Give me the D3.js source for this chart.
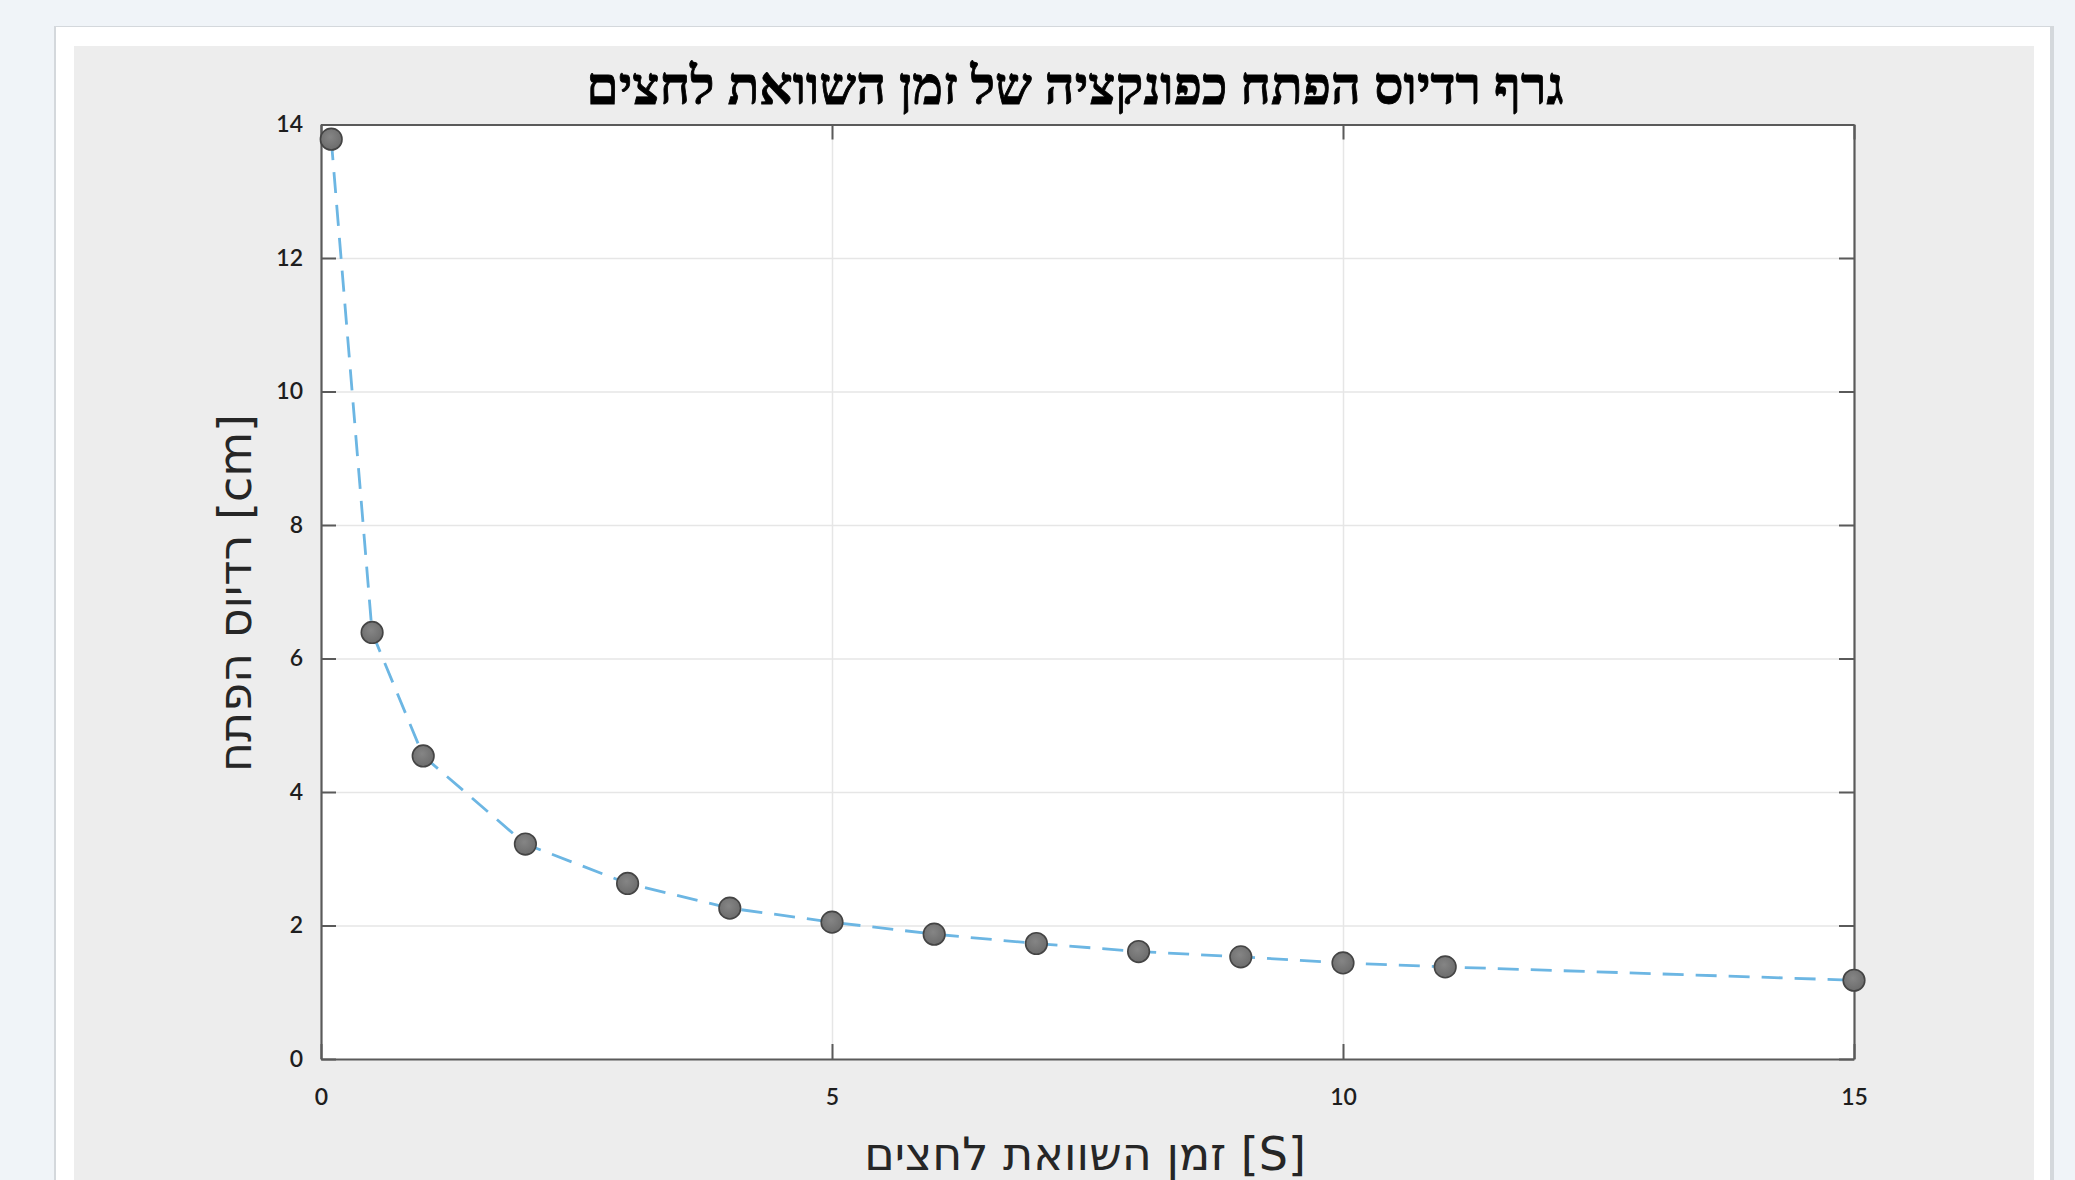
<!DOCTYPE html>
<html lang="he">
<head>
<meta charset="utf-8">
<script src="https://cdn.jsdelivr.net/npm/d3@7"></script>
<style>
  html, body { margin: 0; padding: 0; background: #f0f4f8; overflow: hidden; }
  svg { display: block; }
</style>
</head>
<body>
<svg id="chart" width="2075" height="1180"></svg>
<script>
// Pressure-equalisation time [s] and resulting opening radius [cm]
const times = [0.1, 0.5, 1, 2, 3, 4, 5, 6, 7, 8, 9, 10, 11, 15];
const radii = [13.78, 6.39, 4.54, 3.22, 2.63, 2.26, 2.05, 1.87, 1.73, 1.61, 1.53, 1.44, 1.38, 1.18];
const xTicks = [0, 5, 10, 15];
const yTicks = [0, 2, 4, 6, 8, 10, 12, 14];

const titleText = "גרף רדיוס הפתח כפונקציה של זמן השוואת לחצים";
const xLabelText = "זמן השוואת לחצים [S]";
const yLabelText = "רדיוס הפתח [cm]";

const svg = d3.select("#chart");
const W = 2075, H = 1180;

// page, card and figure panel
svg.append("rect").attr("width", W).attr("height", H).attr("fill", "#f0f4f8");
svg.append("rect").attr("x", 54).attr("y", 26).attr("width", 2000).attr("height", H)
  .attr("fill", "#d4d8dc");
svg.append("rect").attr("x", 56).attr("y", 27).attr("width", 1994).attr("height", H)
  .attr("fill", "#ffffff");
svg.append("rect").attr("x", 74).attr("y", 46).attr("width", 1960).attr("height", H)
  .attr("fill", "#ededed");

const plot = { left: 321, top: 124.5, right: 1854, bottom: 1059 };

const x = d3.scaleLinear().domain([0, 15]).range([plot.left, plot.right]);
const y = d3.scaleLinear().domain([0, 14]).range([plot.bottom, plot.top]);

// plot area
svg.append("rect")
  .attr("x", plot.left).attr("y", plot.top)
  .attr("width", plot.right - plot.left).attr("height", plot.bottom - plot.top)
  .attr("fill", "#ffffff");

// grid
const grid = svg.append("g").attr("class", "grid");
grid.append("g")
  .attr("transform", `translate(0,${plot.bottom})`)
  .call(d3.axisBottom(x).tickValues(xTicks.slice(1, -1)).tickSize(-(plot.bottom - plot.top)).tickFormat(""));
grid.append("g")
  .attr("transform", `translate(${plot.left},0)`)
  .call(d3.axisLeft(y).tickValues(yTicks.slice(1, -1)).tickSize(-(plot.right - plot.left)).tickFormat(""));
grid.selectAll(".domain").remove();
grid.selectAll("line").attr("stroke", "#e6e6e6").attr("stroke-width", 1.5);

// axes with inward ticks on all four sides
const tickLen = 15;
const axisColor = "#5a5a5a";
const tickFont = "Lato, 'Open Sans', sans-serif";

const gx = svg.append("g").attr("transform", `translate(0,${plot.bottom})`)
  .call(d3.axisBottom(x).tickValues(xTicks).tickSize(-tickLen).tickPadding(30).tickSizeOuter(0));
const gy = svg.append("g").attr("transform", `translate(${plot.left},0)`)
  .call(d3.axisLeft(y).tickValues(yTicks).tickSize(-tickLen).tickPadding(18).tickSizeOuter(0));
const gxTop = svg.append("g").attr("transform", `translate(0,${plot.top})`)
  .call(d3.axisTop(x).tickValues(xTicks).tickSize(-tickLen).tickFormat("").tickSizeOuter(0));
const gyRight = svg.append("g").attr("transform", `translate(${plot.right},0)`)
  .call(d3.axisRight(y).tickValues(yTicks).tickSize(-tickLen).tickFormat("").tickSizeOuter(0));

[gx, gy, gxTop, gyRight].forEach(g => {
  g.select(".domain").attr("stroke", axisColor).attr("stroke-width", 2.2);
  g.selectAll(".tick line").attr("stroke", axisColor).attr("stroke-width", 2);
  g.selectAll(".tick text")
    .attr("fill", "#1e1e1e")
    .style("font-family", tickFont)
    .style("font-weight", "600")
    .style("font-size", "23px");
});

// dashed connecting line
const pts = times.map((t, i) => [t, radii[i]]);
svg.append("path")
  .datum(pts)
  .attr("fill", "none")
  .attr("stroke", "#6cb6e3")
  .attr("stroke-width", 2.8)
  .attr("stroke-dasharray", "21,12")
  .attr("d", d3.line().x(d => x(d[0])).y(d => y(d[1])));

// markers
const defs = svg.append("defs");
const grad = defs.append("radialGradient").attr("id", "dotFill")
  .attr("cx", "45%").attr("cy", "40%").attr("r", "65%");
grad.append("stop").attr("offset", "0%").attr("stop-color", "#858585");
grad.append("stop").attr("offset", "100%").attr("stop-color", "#6a6a6a");

svg.append("g").selectAll("circle")
  .data(pts)
  .join("circle")
  .attr("cx", d => x(d[0]))
  .attr("cy", d => y(d[1]))
  .attr("r", 10.8)
  .attr("fill", "url(#dotFill)")
  .attr("stroke", "#444444")
  .attr("stroke-width", 1.6);

// title
svg.append("text")
  .attr("x", 1075).attr("y", 104)
  .attr("text-anchor", "middle")
  .style("font-family", "'Liberation Serif', 'DejaVu Serif', serif")
  .style("font-weight", "bold")
  .style("font-size", "52px")
  .attr("fill", "#000")
  .attr("stroke", "#000")
  .attr("stroke-width", 0.8)
  .text(titleText);

// axis labels
svg.append("text")
  .attr("x", 1085).attr("y", 1170)
  .attr("text-anchor", "middle")
  .style("font-family", "'DejaVu Sans', 'Liberation Sans', sans-serif")
  .style("font-size", "46px")
  .attr("fill", "#262626")
  .text(xLabelText);

svg.append("text")
  .attr("transform", "translate(251,593) rotate(-90)")
  .attr("text-anchor", "middle")
  .style("font-family", "'DejaVu Sans', 'Liberation Sans', sans-serif")
  .style("font-size", "46px")
  .attr("fill", "#262626")
  .text(yLabelText);
</script>
</body>
</html>
